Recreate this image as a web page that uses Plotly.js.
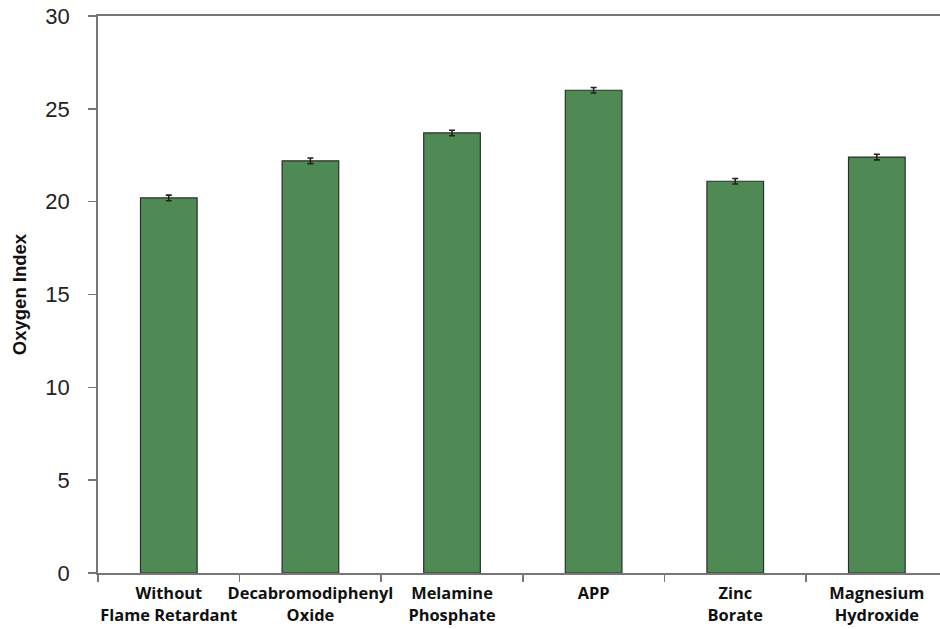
<!DOCTYPE html>
<html>
<head>
<meta charset="utf-8">
<script src="https://cdn.plot.ly/plotly-3.0.1.min.js"></script>
<style>html,body{margin:0;padding:0;background:#fff;}#chart{width:940px;height:629px;}</style>
</head>
<body>
<div id="chart"></div>
<script>
const categories = ["Without<br>Flame Retardant", "Decabromodiphenyl<br>Oxide", "Melamine<br>Phosphate", "APP", "Zinc<br>Borate", "Magnesium<br>Hydroxide"];
const oxygenIndex = [20.2, 22.2, 23.7, 26.0, 21.1, 22.4];
const errors = [0.15, 0.15, 0.15, 0.15, 0.15, 0.15];
const yTicks = [0, 5, 10, 15, 20, 25, 30];

const trace = {
  type: "bar",
  x: categories,
  y: oxygenIndex,
  width: 0.4,
  marker: {color: "#4f8a55", line: {color: "#2e2e2e", width: 1.2}},
  error_y: {type: "data", array: errors, visible: true, color: "#222", thickness: 1.6, width: 3}
};

const layout = {
  width: 940, height: 629,
  margin: {l: 97.5, r: 0, t: 16, b: 56, pad: 0},
  paper_bgcolor: "#fff", plot_bgcolor: "#fff",
  showlegend: false,
  xaxis: {
    type: "category",
    range: [-0.5, 5.446],
    tickson: "boundaries",
    ticks: "outside", ticklen: 7, tickwidth: 1.5, tickcolor: "#777",
    showline: true, linecolor: "#777", linewidth: 1.8, mirror: true,
    showgrid: false, zeroline: false,
    tickangle: 0,
    ticklabelstandoff: 5,
    tickfont: {family: "Open Sans, sans-serif", size: 16.4, color: "#111", weight: "bold"},
    fixedrange: true
  },
  yaxis: {
    range: [0, 30],
    tickvals: yTicks,
    ticktext: yTicks.map(String),
    ticks: "outside", ticklen: 8, tickwidth: 1.5, tickcolor: "#777",
    showline: true, linecolor: "#777", linewidth: 1.8,
    showgrid: false, zeroline: false,
    ticklabelstandoff: 14,
    tickfont: {family: "Liberation Sans, Arial, sans-serif", size: 22, color: "#222"},
    title: {text: "Oxygen Index", standoff: 14, font: {family: "Liberation Sans, Arial, sans-serif", size: 18.5, color: "#111", weight: "bold"}},
    fixedrange: true
  }
};

Plotly.newPlot("chart", [trace], layout, {displayModeBar: false, staticPlot: true});
</script>
</body>
</html>
